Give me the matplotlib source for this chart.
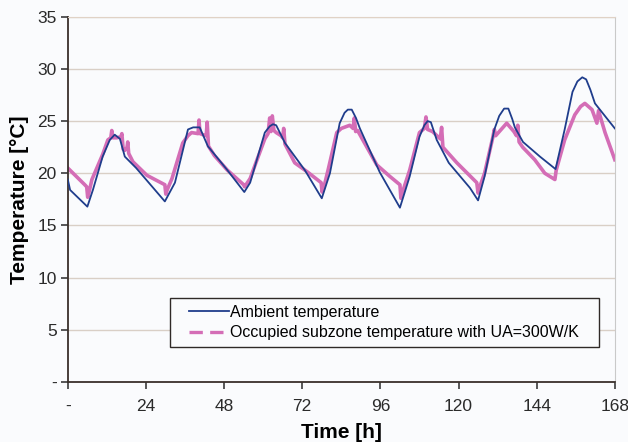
import matplotlib
matplotlib.use("Agg")
from matplotlib import pyplot as plt
from matplotlib.lines import Line2D
from matplotlib.legend_handler import HandlerLine2D

# weekly temperature trace, hours from start of week
amb_hours = [0, 0.7, 6, 7.7, 10.7, 12.9, 14.4, 16, 17.5, 21,
             29.8, 32.9, 36.9, 38.5, 40.5, 43, 49, 54.2, 56, 60.5,
             62, 63, 64, 66.7, 72.8, 78, 80.5, 83.5, 85, 86,
             87.2, 88.5, 89.7, 95.8, 102, 105, 108, 109.5, 110.5, 111.5,
             113.3, 117, 123.5, 126, 128, 131, 132.5, 134, 135.3, 136.5,
             137.3, 139.8, 145, 149.8, 152.6, 155, 156.5, 158, 159.2, 160.5,
             161.9, 168]
amb_temp = [19.4, 18.4, 16.8, 18.4, 21.6, 23.2, 23.7, 23.3, 21.6, 20.5,
            17.3, 19.1, 24.2, 24.4, 24.4, 22.6, 20.3, 18.2, 19.1, 23.9,
            24.5, 24.7, 24.6, 22.9, 20.3, 17.6, 20.0, 24.8, 25.8, 26.1,
            26.1, 25.3, 24.3, 20.1, 16.7, 19.7, 23.5, 24.6, 25.0, 24.9,
            23.2, 21.0, 18.6, 17.4, 19.7, 24.2, 25.5, 26.2, 26.2, 25.2,
            24.4, 23.0, 21.6, 20.4, 24.2, 27.8, 28.8, 29.2, 29.0, 28.0,
            26.7, 24.3]

occ_hours = [0, 5.2, 5.8, 6.1, 6.6, 7.4, 10.7, 12.3, 13.2, 13.5,
             13.8, 15, 16.3, 16.6, 17, 17.5, 18.2, 18.4, 18.7, 20,
             24.3, 29.8, 30.1, 30.5, 32, 35.3, 36.9, 38, 40, 40.3,
             40.6, 41.5, 42.5, 42.8, 43.2, 45, 49, 54, 54.3, 56,
             58, 60.5, 61.5, 62, 62.4, 62.8, 63.3, 64, 65.5, 66,
             66.3, 66.7, 69.7, 73.7, 77.8, 78.1, 78.6, 80, 82.6, 84,
             86.6, 87.6, 88, 88.4, 89, 90.6, 94.9, 98.9, 102, 102.3,
             102.8, 105, 108, 109.5, 110, 110.5, 112, 114.4, 114.8, 115.2,
             119.5, 125.6, 126, 126.4, 128, 130.5, 131, 131.4, 134.8, 137,
             137.8, 138.2, 138.6, 139.7, 143.4, 146.5, 149.6, 150, 152.6, 155.7,
             157.5, 158.8, 161, 162.5, 163, 165, 168]
occ_temp = [20.5, 18.9, 18.7, 17.7, 18.3, 19.4, 21.8, 23.2, 23.4, 24.1,
            23.4, 23.4, 23.5, 23.8, 22.3, 22.2, 22.5, 23.0, 21.9, 21.1,
            19.8, 18.9, 18.0, 18.4, 19.5, 22.9, 23.6, 23.9, 23.8, 25.1,
            23.8, 23.7, 23.6, 24.9, 22.6, 21.7, 20.3, 18.9, 18.7, 19.5,
            21.2, 23.3, 23.8, 25.3, 24.0, 25.5, 24.1, 23.9, 23.6, 23.4,
            24.3, 22.8, 21.0, 20.1, 19.1, 18.2, 18.6, 20.4, 23.9, 24.3,
            24.6, 24.3, 25.3, 24.0, 24.1, 23.2, 20.8, 19.7, 18.9, 17.6,
            18.2, 20.3, 23.9, 24.3, 25.4, 24.2, 24.0, 23.3, 24.4, 22.5,
            21.0, 19.1, 18.1, 18.6, 20.0, 23.4, 24.2, 23.6, 24.8, 24.0,
            23.6, 24.6, 23.0, 22.5, 21.3, 20.0, 19.4, 20.3, 23.2, 25.6,
            26.4, 26.7, 26.1, 24.8, 26.0, 23.9, 21.3]

x_ticks = [0, 24, 48, 72, 96, 120, 144, 168]
x_labels = ["-", "24", "48", "72", "96", "120", "144", "168"]
y_ticks = [0, 5, 10, 15, 20, 25, 30, 35]
y_labels = ["-", "5", "10", "15", "20", "25", "30", "35"]

blue = "#1f3d8c"
pink = "#d46db6"
bg = "#fafbfd"


class InsetLine(HandlerLine2D):
    # legend line that starts a bit in from the frame edge
    def create_artists(self, legend, orig_handle, xdescent, ydescent,
                       width, height, fontsize, trans):
        shift = 0.25 * width
        return super().create_artists(legend, orig_handle, xdescent - shift,
                                      ydescent, width - shift, height,
                                      fontsize, trans)


plt.rcParams['font.family'] = ['Liberation Sans', 'DejaVu Sans']

fig = plt.figure(figsize=(6.28, 4.42), dpi=100, facecolor=bg)
ax = fig.add_axes([0.108, 0.136, 0.871, 0.826])
ax.set_facecolor(bg)

for y in y_ticks[1:]:
    ax.axhline(y, color="#d9cfc6", lw=1.0, zorder=1)

ax.plot(amb_hours, amb_temp, color=blue, lw=1.3, zorder=3)
ax.plot(occ_hours, occ_temp, color=pink, lw=2.6, zorder=2,
        solid_joinstyle="round")

ax.set_xlim(0, 168)
ax.set_ylim(0, 35)
ax.set_xticks(x_ticks)
ax.set_xticklabels(x_labels)
ax.set_yticks(y_ticks)
ax.set_yticklabels(y_labels)
ax.tick_params(axis="both", labelsize=12.5, colors="#2a2a2a", length=5,
               width=1.1, direction="out")
ax.tick_params(axis="x", pad=7)
ax.tick_params(axis="y", pad=3)

ax.spines["left"].set_color("#3a302b")
ax.spines["bottom"].set_color("#3a302b")
ax.spines["left"].set_linewidth(1.3)
ax.spines["bottom"].set_linewidth(1.3)
ax.spines["top"].set_color("#e0d2c6")
ax.spines["right"].set_color("#c9c9c9")

ax.set_ylabel("Temperature [°C]", fontsize=15, fontweight="bold", labelpad=6)
ax.set_xlabel("Time [h]", fontsize=15, fontweight="bold", labelpad=7)

handles = [Line2D([], [], color=blue, lw=1.3),
           Line2D([], [], color=pink, lw=2.4, linestyle=(0, (4, 2.2)))]
leg = ax.legend(handles,
                ["Ambient temperature",
                 "Occupied subzone temperature with UA=300W/K"],
                loc="lower left", bbox_to_anchor=(0.186, 0.096, 0.785, 0.129),
                mode="expand", borderaxespad=0, fontsize=11.5, fancybox=False,
                framealpha=1, edgecolor="#2f2a27", handlelength=3.3,
                handletextpad=0.1, borderpad=0.4, labelspacing=0.35,
                handler_map={Line2D: InsetLine()})
leg.get_frame().set_linewidth(1.0)
leg.get_frame().set_facecolor(bg)

fig.savefig("out.png", dpi=100, facecolor=bg)
